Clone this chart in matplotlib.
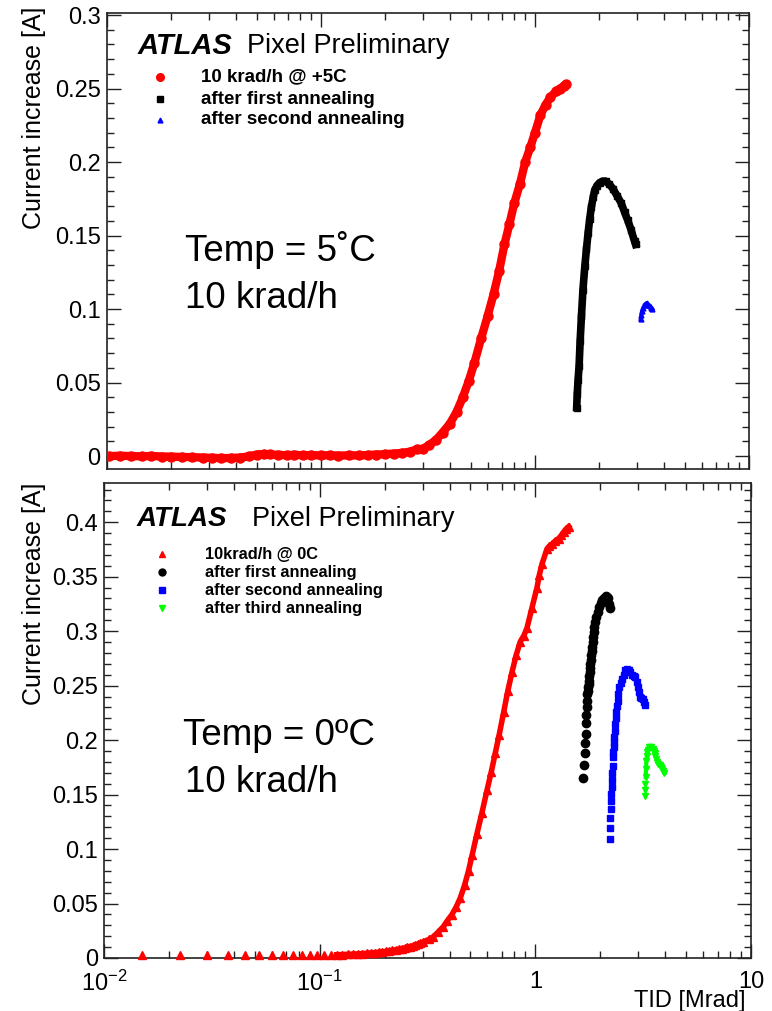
import numpy as np
import matplotlib
matplotlib.use("Agg")
import matplotlib.pyplot as plt
from matplotlib.ticker import (FixedLocator, FixedFormatter, LogLocator,
                               MultipleLocator, FuncFormatter, NullFormatter)

plt.rcParams['font.family'] = ['Liberation Sans', 'DejaVu Sans']
plt.rcParams['mathtext.fontset'] = 'custom'
plt.rcParams['mathtext.rm'] = 'Liberation Sans'
plt.rcParams['mathtext.it'] = 'Liberation Sans:italic'
plt.rcParams['mathtext.bf'] = 'Liberation Sans:bold'

# ---------------- data: top panel (5 C) ----------------
top_red_x = [0.0102, 0.0115, 0.013, 0.0145, 0.016, 0.018, 0.02, 0.0225, 0.025, 0.028,
             0.031, 0.034, 0.038, 0.042, 0.046, 0.05, 0.054, 0.058, 0.063, 0.069,
             0.075, 0.082, 0.09, 0.1, 0.11, 0.12, 0.135, 0.15, 0.165, 0.18,
             0.2, 0.22, 0.24, 0.26, 0.28, 0.3, 0.32, 0.345, 0.37, 0.4,
             0.43, 0.46, 0.49, 0.52, 0.56, 0.6, 0.64, 0.68, 0.72, 0.76,
             0.8, 0.85, 0.9, 0.95, 1.0, 1.06, 1.12, 1.18, 1.25, 1.31,
             1.37, 1.4]
top_red_y = [0.0, 0.0002, 0.0, -0.0002, 0.0001, -0.0003, -0.0004, -0.0006, -0.0008, -0.0010,
             -0.0012, -0.0014, -0.0013, -0.0010, -0.0002, 0.0010, 0.0014, 0.0011, 0.0008, 0.0006,
             0.0009, 0.0005, 0.0007, 0.0004, 0.0006, 0.0003, 0.0005, 0.0004, 0.0007, 0.0010,
             0.0013, 0.0017, 0.0022, 0.0030, 0.0045, 0.0050, 0.0075, 0.0110, 0.0160, 0.0220,
             0.0300, 0.0400, 0.0510, 0.0630, 0.0800, 0.0950, 0.1100, 0.1260, 0.1440, 0.1580,
             0.1720, 0.1850, 0.2000, 0.2100, 0.2200, 0.2320, 0.2390, 0.2440, 0.2480, 0.2500,
             0.2520, 0.2530]

top_black_x = [1.566, 1.575, 1.59, 1.607, 1.625, 1.648, 1.675, 1.709, 1.74, 1.77,
               1.80, 1.835, 1.87, 1.901, 1.95, 2.004, 2.07, 2.138, 2.22, 2.31,
               2.42, 2.53, 2.62, 2.71, 2.81, 2.92, 2.95]
top_black_y = [0.033, 0.042, 0.052, 0.061, 0.078, 0.095, 0.113, 0.129, 0.141, 0.1515,
               0.161, 0.1696, 0.176, 0.181, 0.184, 0.186, 0.187, 0.187, 0.185, 0.182,
               0.177, 0.172, 0.166, 0.1605, 0.154, 0.146, 0.144]

top_blue_x = [3.12, 3.14, 3.17, 3.21, 3.26, 3.32, 3.38, 3.44, 3.49, 3.53]
top_blue_y = [0.093, 0.096, 0.099, 0.101, 0.103, 0.104, 0.103, 0.102, 0.101, 0.100]

top_labels = ["10 krad/h @ +5C", "after first annealing", "after second annealing"]

# ---------------- data: bottom panel (0 C) ----------------
bot_red_x = [0.015, 0.0225, 0.03, 0.0375, 0.045, 0.0525, 0.06, 0.0675, 0.075, 0.0825,
             0.09, 0.0975, 0.105, 0.1125, 0.12, 0.1275, 0.135, 0.1425, 0.15, 0.1575,
             0.165, 0.1725, 0.18, 0.1875, 0.195, 0.2025, 0.21, 0.2175, 0.225, 0.2325,
             0.24, 0.2475, 0.255, 0.2625, 0.27, 0.2775, 0.285, 0.2925, 0.30, 0.32,
             0.337, 0.355, 0.375, 0.39, 0.41, 0.43, 0.449, 0.47, 0.49, 0.51,
             0.536, 0.565, 0.597, 0.625, 0.652, 0.68, 0.713, 0.745, 0.78, 0.815,
             0.852, 0.885, 0.915, 0.965, 1.018, 1.045, 1.074, 1.133, 1.16, 1.195,
             1.24, 1.282, 1.32, 1.353, 1.39, 1.428]
bot_red_y = [0.0025, 0.0025, 0.0025, 0.0025, 0.0025, 0.0025, 0.0025, 0.0025, 0.0025, 0.0025,
             0.0025, 0.0026, 0.0028, 0.0030, 0.0030, 0.0032, 0.0034, 0.0036, 0.0038, 0.0040,
             0.0043, 0.0046, 0.0050, 0.0053, 0.0057, 0.0060, 0.0065, 0.0070, 0.0075, 0.0080,
             0.0086, 0.0092, 0.0098, 0.0105, 0.0112, 0.0120, 0.0128, 0.0136, 0.0145, 0.0170,
             0.0196, 0.0240, 0.0289, 0.0340, 0.0397, 0.0470, 0.0552, 0.0670, 0.0800, 0.0950,
             0.1140, 0.1330, 0.1540, 0.1710, 0.1880, 0.2050, 0.2255, 0.2450, 0.2626, 0.2780,
             0.2905, 0.2960, 0.3030, 0.3215, 0.3400, 0.3520, 0.3617, 0.3756, 0.3780, 0.3800,
             0.3830, 0.3850, 0.3880, 0.3910, 0.3940, 0.3960]

bot_black_x = [1.664, 1.675, 1.693, 1.706, 1.712, 1.719, 1.725, 1.730, 1.738, 1.744,
               1.751, 1.757, 1.766, 1.775, 1.781, 1.787, 1.794, 1.800, 1.807, 1.814,
               1.823, 1.833, 1.843, 1.853, 1.866, 1.879, 1.899, 1.919, 1.947, 1.975,
               2.01, 2.046, 2.083, 2.120, 2.142, 2.165, 2.196, 2.228]
bot_black_y = [0.165, 0.1775, 0.188, 0.197, 0.206, 0.2155, 0.223, 0.230, 0.2363, 0.2425,
               0.2455, 0.2486, 0.2516, 0.2547, 0.2585, 0.2623, 0.2662, 0.270, 0.2738, 0.2777,
               0.2815, 0.2853, 0.2899, 0.2945, 0.2991, 0.3037, 0.3084, 0.313, 0.3175, 0.322,
               0.3255, 0.329, 0.3305, 0.332, 0.331, 0.330, 0.3246, 0.3216]

bot_blue_x = [2.212, 2.212, 2.228, 2.236, 2.245, 2.253, 2.26, 2.27, 2.277, 2.285,
              2.295, 2.302, 2.309, 2.318, 2.326, 2.338, 2.351, 2.364, 2.376, 2.392,
              2.409, 2.43, 2.454, 2.49, 2.525, 2.57, 2.616, 2.66, 2.71, 2.76,
              2.81, 2.86, 2.911, 2.95, 2.984, 3.016, 3.048, 3.10, 3.161, 3.19, 3.216]
bot_blue_y = [0.109, 0.119, 0.1285, 0.1367, 0.1437, 0.1505, 0.1566, 0.1634, 0.1695, 0.1766,
              0.1842, 0.1888, 0.1934, 0.198, 0.2026, 0.2088, 0.2149, 0.2202, 0.2256, 0.231,
              0.2363, 0.2424, 0.2485, 0.2524, 0.2563, 0.2602, 0.264, 0.2655, 0.2645, 0.2622,
              0.260, 0.2589, 0.2578, 0.2531, 0.2485, 0.2442, 0.240, 0.2389, 0.2378, 0.2352, 0.2326]

bot_green_x = [3.216, 3.228, 3.236, 3.25, 3.26, 3.274, 3.286, 3.298, 3.325, 3.357,
               3.405, 3.454, 3.50, 3.54, 3.575, 3.606, 3.64, 3.672, 3.72, 3.774,
               3.82, 3.873, 3.92, 3.969]
bot_green_y = [0.149, 0.154, 0.1597, 0.1658, 0.1735, 0.181, 0.185, 0.1888, 0.191, 0.1934,
               0.1937, 0.194, 0.192, 0.1903, 0.188, 0.1857, 0.1826, 0.1796, 0.1785, 0.1775,
               0.1755, 0.1735, 0.1715, 0.1695]

bot_labels = ["10krad/h @ 0C", "after first annealing", "after second annealing",
              "after third annealing"]

x_ticks = [0.01, 0.1, 1, 10]
x_tick_labels = [r"$10^{-2}$", r"$10^{-1}$", "1", "10"]

# ---------------- figure ----------------
W, H = 772, 1011
fig = plt.figure(figsize=(W / 100, H / 100), dpi=100)


def rect(l, t, r, b):
    return [l / W, 1 - b / H, (r - l) / W, (b - t) / H]


ax1 = fig.add_axes(rect(107, 13, 749, 469))
ax2 = fig.add_axes(rect(104, 483, 751, 958))


def style(ax, ylo, yhi, show_x):
    ax.set_xscale('log')
    ax.set_xlim(0.01, 10)
    ax.set_ylim(ylo, yhi)
    ax.xaxis.set_major_locator(FixedLocator(x_ticks))
    ax.xaxis.set_minor_locator(LogLocator(base=10, subs=np.arange(2, 10), numticks=30))
    ax.xaxis.set_minor_formatter(NullFormatter())
    if show_x:
        ax.xaxis.set_major_formatter(FixedFormatter(x_tick_labels))
    else:
        ax.xaxis.set_major_formatter(NullFormatter())
    ax.yaxis.set_major_locator(MultipleLocator(0.05))
    ax.yaxis.set_minor_locator(MultipleLocator(0.01))
    ax.yaxis.set_major_formatter(FuncFormatter(lambda v, p: f"{round(v, 3):g}"))
    ax.tick_params(which='both', direction='in', top=True, right=True, width=1.0,
                   color='#222222')
    ax.tick_params(which='major', length=10)
    ax.tick_params(which='minor', length=5)
    ax.tick_params(axis='y', labelsize=17, pad=4.5)
    ax.tick_params(axis='x', labelsize=17, pad=9.5)
    for s in ax.spines.values():
        s.set_linewidth(1.2)
        s.set_color('#222222')


style(ax1, -0.0088, 0.3014, False)
style(ax2, 0.0, 0.436, True)

# ---- top panel series ----
ax1.plot(top_red_x, top_red_y, '-', color='red', lw=6.0, solid_capstyle='round', zorder=3)
ax1.plot(top_red_x, top_red_y, 'o', color='red', ms=6.5, mec='red', zorder=3)
ax1.plot(top_black_x, top_black_y, '-', color='black', lw=5.5, zorder=3)
ax1.plot(top_black_x, top_black_y, 's', color='black', ms=5, zorder=3)
ax1.plot(top_blue_x, top_blue_y, '-', color='blue', lw=3.0, zorder=3)
ax1.plot(top_blue_x, top_blue_y, '^', color='blue', ms=3.5, zorder=3)

# ---- bottom panel series ----
brx = np.array(bot_red_x); bry = np.array(bot_red_y)
m = brx >= 0.12
ax2.plot(brx[m], bry[m], '-', color='red', lw=4.0, zorder=3)
ax2.plot(brx, bry, '^', color='red', ms=5.5, mec='red', zorder=3, clip_on=False)

bkx = np.array(bot_black_x); bky = np.array(bot_black_y)
m = bky >= 0.24
ax2.plot(bkx[m], bky[m], '-', color='black', lw=4.0, zorder=3)
ax2.plot(bkx, bky, 'o', color='black', ms=6, zorder=3)

bbx = np.array(bot_blue_x); bby = np.array(bot_blue_y)
m = bby >= 0.18
ax2.plot(bbx[m], bby[m], '-', color='blue', lw=3.5, zorder=3)
ax2.plot(bbx, bby, 's', color='blue', ms=4.3, zorder=3)

bgx = np.array(bot_green_x); bgy = np.array(bot_green_y)
m = bgy >= 0.165
ax2.plot(bgx[m], bgy[m], '-', color='#00ff00', lw=3.0, zorder=3)
ax2.plot(bgx, bgy, 'v', color='#00ff00', ms=4.0, zorder=3)


# ---- annotations ----
def fx(ax, px, py):
    l, t, r, b = (107, 13, 749, 469) if ax is ax1 else (104, 483, 751, 958)
    return (px - l) / (r - l), 1 - (py - t) / (b - t)


# top header
ax1.text(*fx(ax1, 138, 46), "ATLAS", transform=ax1.transAxes, fontsize=21,
         fontweight='bold', fontstyle='italic', va='center', ha='left')
ax1.text(*fx(ax1, 247, 46), "Pixel Preliminary", transform=ax1.transAxes, fontsize=19.5,
         va='center', ha='left')
top_markers = [('o', 'red', 5.5), ('s', 'black', 4.5), ('^', 'blue', 3.5)]
for i, (lab, (mk, col, ms)) in enumerate(zip(top_labels, top_markers)):
    yy = [77, 99, 120][i]
    ax1.plot([fx(ax1, 160, yy)[0]], [fx(ax1, 160, yy)[1]], mk, color=col, ms=ms,
             transform=ax1.transAxes)
    ax1.text(*fx(ax1, 201, yy), lab, transform=ax1.transAxes, fontsize=13.5,
             fontweight='bold', va='center', ha='left')
ax1.text(*fx(ax1, 185, 250), "Temp = 5˚C", transform=ax1.transAxes, fontsize=26.5,
         va='center', ha='left')
ax1.text(*fx(ax1, 185, 298), "10 krad/h", transform=ax1.transAxes, fontsize=26.5,
         va='center', ha='left')

# bottom header
ax2.text(*fx(ax2, 137, 519), "ATLAS", transform=ax2.transAxes, fontsize=20,
         fontweight='bold', fontstyle='italic', va='center', ha='left')
ax2.text(*fx(ax2, 252, 519), "Pixel Preliminary", transform=ax2.transAxes, fontsize=19.5,
         va='center', ha='left')
bot_markers = [('^', 'red', 4.5), ('o', 'black', 5), ('s', 'blue', 4), ('v', '#00ff00', 4)]
for i, (lab, (mk, col, ms)) in enumerate(zip(bot_labels, bot_markers)):
    yy = [554, 572, 590, 608][i]
    ax2.plot([fx(ax2, 162, yy)[0]], [fx(ax2, 162, yy)[1]], mk, color=col, ms=ms,
             transform=ax2.transAxes)
    ax2.text(*fx(ax2, 205, yy), lab, transform=ax2.transAxes, fontsize=11.8,
             fontweight='bold', va='center', ha='left')
ax2.text(*fx(ax2, 183, 735), "Temp = 0ºC", transform=ax2.transAxes, fontsize=26.5,
         va='center', ha='left')
ax2.text(*fx(ax2, 185, 783), "10 krad/h", transform=ax2.transAxes, fontsize=26.5,
         va='center', ha='left')

# axis titles
fig.text(34 / W, 1 - 7 / H, "Current increase [A]", rotation=90, ha='center', va='top',
         fontsize=18)
fig.text(34 / W, 1 - 483 / H, "Current increase [A]", rotation=90, ha='center', va='top',
         fontsize=18)
fig.text(745 / W, 1 - 1001 / H, "TID [Mrad]", ha='right', va='center', fontsize=17)

fig.savefig("out.png", dpi=100)
